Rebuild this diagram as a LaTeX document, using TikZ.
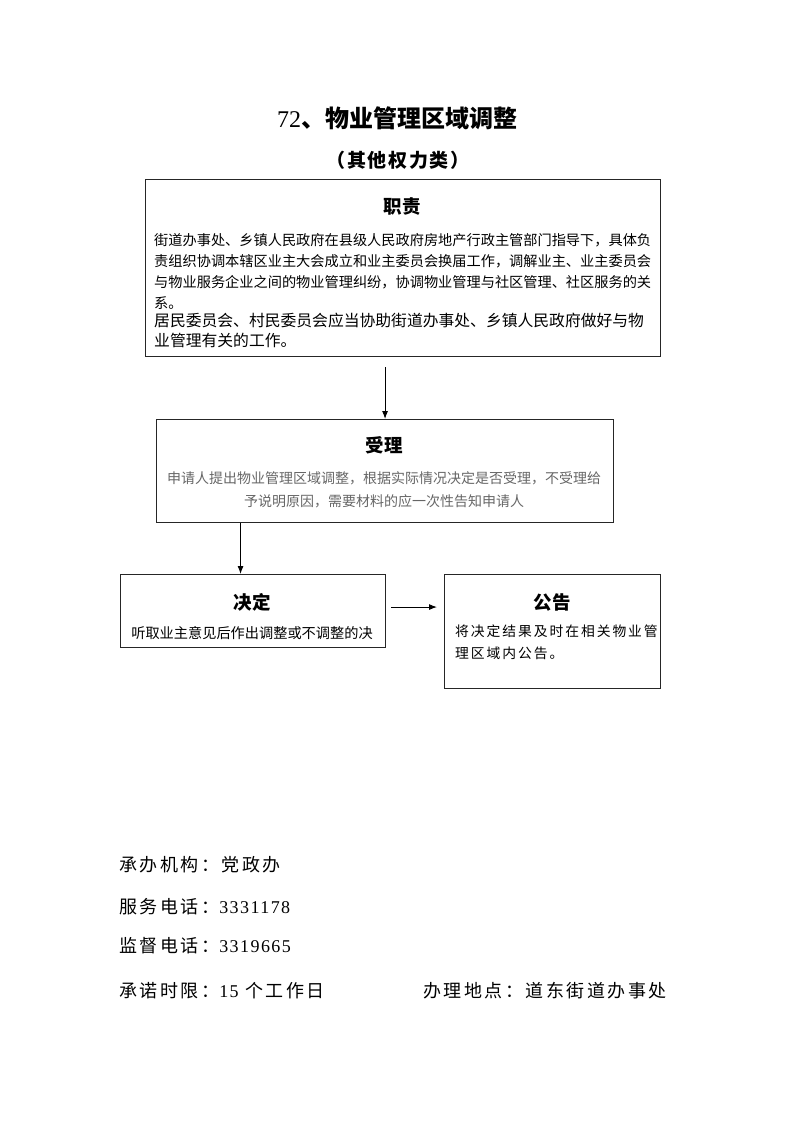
\documentclass[tikz,border=0pt]{standalone}
\usepackage{fontspec}
\setmainfont{Noto Sans CJK SC}
\newfontfamily\numfont{Liberation Serif}
\newfontfamily\widenum{Liberation Serif}[LetterSpace=8]
\newfontfamily\widecjk{Noto Sans CJK SC}[LetterSpace=14]
\newfontfamily\titlecjk{Noto Sans CJK SC}[LetterSpace=8]
\usetikzlibrary{arrows.meta,positioning}
\begin{document}
\begin{tikzpicture}[x=1pt, y=1pt,
    box/.style={draw=black!85, line width=1.1pt, inner sep=0pt, anchor=north west},
    head/.style={font=\bfseries\fontsize{18.5}{20}\selectfont, inner sep=0pt},
    body/.style={font=\fontsize{14.2}{21}\selectfont, inner sep=0pt, align=left, anchor=north west},
    foot/.style={font=\widecjk\fontsize{18}{20}\selectfont, inner sep=0pt, anchor=west},
    arr/.style={-{Latex[length=8pt,width=6pt]}, line width=0.9pt}]
  \useasboundingbox (0,0) rectangle (793,-1122);
  % title
  \node[font=\bfseries\fontsize{24}{26}\selectfont] (title) at (397,-118)
    {{\numfont\mdseries 72}、物业管理区域调整};
  \node[font=\titlecjk\bfseries\fontsize{19}{21}\selectfont] (subtitle) at (398,-160)
    {（其他权力类）};
  % boxes
  \node[box, minimum width=515pt, minimum height=177pt] (duty) at (145,-179) {};
  \node[box, minimum width=457pt, minimum height=103pt] (accept) at (156,-419) {};
  \node[box, minimum width=265pt, minimum height=73pt] (decide) at (120,-574) {};
  \node[box, minimum width=216pt, minimum height=114pt] (notice) at (444,-574) {};
  % headings
  \node[head] (dutyhead) at (402,-207) {职责};
  \node[head] (accepthead) at (384,-445) {受理};
  \node[head] (decidehead) at (252,-602) {决定};
  \node[head] (noticehead) at (552,-602) {公告};
  % texts
  \node[body] (dutytext) at (154,-233)
    {街道办事处、乡镇人民政府在县级人民政府房地产行政主管部门指导下，具体负\\
     责组织协调本辖区业主大会成立和业主委员会换届工作，调解业主、业主委员会\\
     与物业服务企业之间的物业管理纠纷，协调物业管理与社区管理、社区服务的关\\
     系。};
  \node[body, font=\fontsize{15.8}{20}\selectfont] (dutynote) at (154,-313)
    {居民委员会、村民委员会应当协助街道办事处、乡镇人民政府做好与物\\
     业管理有关的工作。};
  \node[body, font=\fontsize{14}{23}\selectfont, align=center, anchor=north, text=black!60] (accepttext) at (384,-471)
    {申请人提出物业管理区域调整，根据实际情况决定是否受理，不受理给\\
     予说明原因，需要材料的应一次性告知申请人};
  \node[body, anchor=north] (decidetext) at (252,-626)
    {听取业主意见后作出调整或不调整的决};
  \node[body, font=\widecjk\fontsize{13.8}{22}\selectfont] (noticetext) at (455,-625)
    {将决定结果及时在相关物业管\\理区域内公告。};
  % arrows
  \draw[arr] ([yshift=-10pt]duty.south -| accept.north) -- (accept.north);
  \draw[arr] ([xshift=-12.5pt]decide.north |- accept.south) -- ([xshift=-12.5pt]decide.north);
  \draw[arr] ([shift={(5pt,4pt)}]decide.east) -- ([shift={(-7pt,4pt)}]decide.east -| notice.west);
  % footer
  \node[foot] (office) at (119,-865) {承办机构：党政办};
  \node[foot] (phone) at (119,-907) {服务电话：{\widenum 3331178}};
  \node[foot] (supervise) at (119,-946) {监督电话：{\widenum 3319665}};
  \node[foot] (limit) at (119,-991) {承诺时限：{\widenum 15} 个工作日};
  \node[foot] (place) at (423,-991) {办理地点：道东街道办事处};
\end{tikzpicture}
\end{document}
